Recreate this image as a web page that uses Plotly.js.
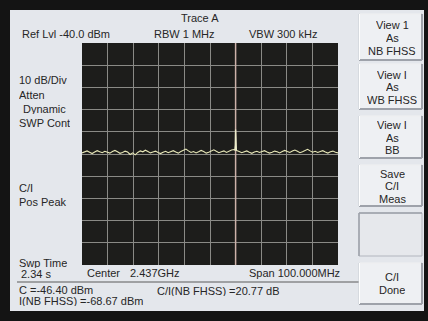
<!DOCTYPE html>
<html>
<head>
<meta charset="utf-8">
<script src="https://cdn.plot.ly/plotly-3.0.1.min.js"></script>
<style>html,body{margin:0;padding:0;background:#111;}#chart{width:428px;height:321px;}</style>
</head>
<body>
<div id="chart"></div>
<script>
// ---- data ----
const centerMHz = 2437;
const spanMHz = 100;
const refLevel = -40;
const dbPerDiv = 10;
const markerFreq = 2447;
const levels = [
  -89.5, -89.0, -88.6, -89.2, -89.8, -89.1, -88.5, -89.0, -89.4, -88.8, -89.2,
  -89.6, -88.9, -88.4, -89.0, -89.7, -89.3, -88.7, -89.1, -90.2, -89.5,
  -90.4, -89.3, -88.6, -89.0, -88.3, -88.9, -89.5, -89.1, -88.7, -89.3,
  -89.8, -89.2, -88.8, -89.4, -89.0, -88.5, -89.1, -89.6, -88.9, -88.2,
  -87.8, -88.6, -89.3, -88.9, -89.5, -89.0, -88.4, -88.9, -89.6, -89.2,
  -88.7, -88.1, -88.8, -89.4, -89.0, -88.6, -89.3, -88.7, -88.2,
  -88.0,
  -88.6, -88.9, -89.4, -89.0, -88.6, -89.2, -89.7, -89.1, -88.8, -89.3,
  -89.0, -88.5, -89.1, -89.6, -89.2, -88.7, -89.0, -89.5, -88.9, -88.4,
  -88.9, -89.3, -88.7, -88.2, -88.8, -89.4, -89.0, -88.3, -87.9, -88.6,
  -89.2, -88.8, -89.3, -88.9, -88.5, -89.1, -89.6, -89.0, -88.7, -89.2, -89.5
];
// narrow carrier spike at the marker
const spikeFreqs = [2446.7, 2446.9, 2447.0, 2447.1, 2447.3];
const spikeLevels = [-88.4, -86.0, -79.0, -85.5, -88.3];
const headerTexts = ["Ref Lvl -40.0 dBm", "RBW 1 MHz", "VBW 300 kHz"];
const sideTexts = ["10 dB/Div", "Atten", "  Dynamic", "SWP Cont", "C/I", "Pos Peak", "Swp Time", " 2.34 s"];
const footerTexts = ["Center", "2.437GHz", "Span 100.000MHz"];
const resultTexts = ["C =-46.40 dBm", "C/I(NB FHSS) =20.77 dB", "I(NB FHSS) =-68.67 dBm"];
const buttons = [["View 1", "As", "NB FHSS"], ["View I", "As", "WB FHSS"], ["View I", "As", "BB"], ["Save", "C/I", "Meas"], [], ["C/I", "Done"]];

// sweep frequencies from center/span
const n = levels.length;
const f0 = centerMHz - spanMHz / 2;
const freqs = levels.map((_, i) => f0 + i * spanMHz / (n - 1));

// ---- layout helpers (pixel -> paper) ----
const L = 82, R = 338, T = 43, B = 265;
const px = p => (p - L) / (R - L);
const py = p => (B - p) / (B - T);
const FONT = "Liberation Sans, Arial, sans-serif";
const TXT = "#262626";
const annotations = [];
function A(text, x, y, anchor, h) {
  const a = {text: text, xref: "paper", yref: "paper", x: px(x), y: py(y),
    xanchor: anchor || "left", yanchor: "middle", showarrow: false,
    font: {family: FONT, size: 11, color: TXT}};
  if (h) a.height = h;
  annotations.push(a);
}
const shapes = [];
function rect(x0, y0, x1, y1, fill, line, lw) {
  shapes.push({type: "rect", xref: "paper", yref: "paper", x0: px(x0), x1: px(x1), y0: py(y1), y1: py(y0),
    fillcolor: fill, line: {color: line || fill, width: lw || 0}, layer: "below"});
}
function seg(x0, y0, x1, y1, color, w) {
  shapes.push({type: "line", xref: "paper", yref: "paper", x0: px(x0), x1: px(x1), y0: py(y0), y1: py(y1),
    line: {color: color, width: w}, layer: "below"});
}

// panel
rect(10, 10, 424, 311, "#e4e7ec");
// plot background
rect(L, T, R, B, "#1d1d1b");

// header texts
A("Trace A", 200, 18, "center");
A(headerTexts[0], 20, 34);
A(headerTexts[1], 152, 34);
A(headerTexts[2], 247, 34);
// side texts
const sideY = [79, 94, 108, 122, 187, 201, 262, 273];
sideTexts.forEach((t, i) => A(t.replace(/^ +/, ""), t.startsWith("  ") ? 21 : (t.startsWith(" ") ? 19 : 17), sideY[i], "left", 11));
// footer
A(footerTexts[0], 85, 273);
A(footerTexts[1], 128, 273);
A(footerTexts[2], 342, 273, "right");
seg(17, 282, 359, 282, "#5a5a5a", 1);
A(resultTexts[0], 17, 289, "left", 11);
A(resultTexts[1], 155, 290, "left", 11);
A(resultTexts[2], 17, 300, "left", 11);

// buttons
const btnY = [[14, 60], [64, 109], [116, 158], [165, 206], [213, 256], [263, 304]];
const lineY = [[25, 37.5, 50], [74, 86.5, 99], [124.5, 137, 149.5], [173, 185.5, 198], [], [276.5, 289]];
btnY.forEach((b, i) => {
  const [y0, y1] = b;
  if (buttons[i].length) {
    rect(359, y0, 422, y1, "#eef0f3", "#c9ccd2", 1);
    seg(359, y1, 422, y1, "#9ea2aa", 2);
    seg(422, y0, 422, y1, "#9ea2aa", 2);
    seg(359.5, y0, 421, y0, "#ffffff", 1);
    seg(359.5, y0, 359.5, y1, "#ffffff", 1);
  } else {
    rect(359, y0, 422, y1, "#e6e8ec", "#b2b6be", 1);
    seg(359, y0, 422, y0, "#9ea2aa", 1.5);
    seg(359, y0, 359, y1, "#9ea2aa", 1.5);
  }
  buttons[i].forEach((t, k) => A(t, 392, lineY[i][k], "center", 11));
});

const data = [
  {x: [markerFreq, markerFreq], y: [refLevel - 10 * dbPerDiv, refLevel], mode: "lines",
   line: {color: "#cdb2aa", width: 1.5}, hoverinfo: "skip"},
  {x: freqs, y: levels, mode: "lines", line: {color: "#e8e8b8", width: 1.1}, hoverinfo: "skip"},
  {x: spikeFreqs, y: spikeLevels, mode: "lines", line: {color: "#eeeecc", width: 1.3}, hoverinfo: "skip"}
];

const layout = {
  width: 428, height: 321,
  margin: {l: L, r: 428 - R, t: T, b: 321 - B, pad: 0},
  paper_bgcolor: "#141414",
  plot_bgcolor: "rgba(0,0,0,0)",
  showlegend: false,
  xaxis: {range: [f0, f0 + spanMHz], dtick: spanMHz / 10, tick0: f0, showticklabels: false, ticks: "",
          showgrid: true, gridcolor: "#8a8a86", gridwidth: 1, zeroline: false, showline: false, fixedrange: true},
  yaxis: {range: [refLevel - 10 * dbPerDiv, refLevel], dtick: dbPerDiv, tick0: refLevel, showticklabels: false, ticks: "",
          showgrid: true, gridcolor: "#8a8a86", gridwidth: 1, zeroline: false, showline: false, fixedrange: true},
  shapes: shapes,
  annotations: annotations
};

Plotly.newPlot("chart", data, layout, {staticPlot: true, displayModeBar: false});
</script>
</body>
</html>
